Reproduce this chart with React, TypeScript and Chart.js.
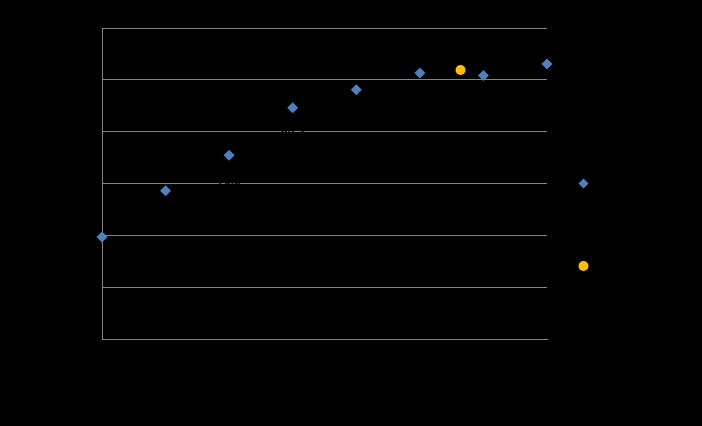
import React, { useEffect, useRef } from "react";
import { Chart, registerables } from "chart.js";

Chart.register(...registerables);

// Measured series (x = sample number)
const measuredX = [1, 2, 3, 4, 5, 6, 7, 8];
const measuredY = [39.4, 57.2, 70.9, 89.2, 96.2, 102.6, 101.7, 106.1];

// Single reference point
const referenceX = [6.64];
const referenceY = [103.8];

const seriesNames = ["Series1", "Series2"];

const yMin = 0;
const yMax = 120;
const yStep = 20;

const BLUE = "#4F81BD";
const GOLD = "#FFC000";
const GRID = "#848484";
const TEXT = "#000000";

// Value labels under the measured points (dark text on the dark chart),
// kept inside the plot area horizontally
const valueLabels = {
  id: "valueLabels",
  afterDatasetsDraw(chart: any) {
    const { ctx, chartArea } = chart;
    const meta = chart.getDatasetMeta(0);
    ctx.save();
    ctx.fillStyle = TEXT;
    ctx.font = "bold 12px 'Liberation Sans', Arial, sans-serif";
    ctx.textAlign = "left";
    ctx.textBaseline = "middle";
    meta.data.forEach((pt: any, i: number) => {
      const txt = measuredY[i].toFixed(1);
      const w = ctx.measureText(txt).width;
      let left = pt.x - w / 2;
      left = Math.max(chartArea.left + 3, Math.min(left, chartArea.right - w - 3));
      ctx.fillText(txt, left, pt.y + 26);
    });
    ctx.restore();
  },
};

// Vertical legend to the right of the plot
const sideLegend = {
  id: "sideLegend",
  afterDraw(chart: any) {
    const { ctx, chartArea } = chart;
    const h = chartArea.bottom - chartArea.top;
    const x = chartArea.right + 36.5;
    const rows = [chartArea.top + h * 0.5, chartArea.top + h * 0.765];
    ctx.save();
    chart.data.datasets.forEach((ds: any, i: number) => {
      const y = rows[i];
      ctx.fillStyle = ds.backgroundColor;
      ctx.beginPath();
      if (ds.pointStyle === "rectRot") {
        const r = 5;
        ctx.moveTo(x, y - r);
        ctx.lineTo(x + r, y);
        ctx.lineTo(x, y + r);
        ctx.lineTo(x - r, y);
        ctx.closePath();
      } else {
        ctx.arc(x, y, 5, 0, Math.PI * 2);
      }
      ctx.fill();
      ctx.fillStyle = TEXT;
      ctx.font = "12px 'Liberation Sans', Arial, sans-serif";
      ctx.textAlign = "left";
      ctx.textBaseline = "middle";
      ctx.fillText(ds.label, x + 10, y);
    });
    ctx.restore();
  },
};

export default function App() {
  const canvasRef = useRef<HTMLCanvasElement | null>(null);

  useEffect(() => {
    document.body.style.margin = "0";
    document.body.style.background = "#000";
    const canvas = canvasRef.current;
    if (!canvas) return;

    const chart = new Chart(canvas, {
      type: "scatter",
      data: {
        datasets: [
          {
            label: seriesNames[0],
            data: measuredX.map((x, i) => ({ x, y: measuredY[i] })),
            backgroundColor: BLUE,
            borderColor: BLUE,
            pointStyle: "rectRot",
            pointRadius: 5.5,
            pointHoverRadius: 5.5,
            borderWidth: 0,
            clip: false,
          } as any,
          {
            label: seriesNames[1],
            data: referenceX.map((x, i) => ({ x, y: referenceY[i] })),
            backgroundColor: GOLD,
            borderColor: GOLD,
            pointStyle: "circle",
            pointRadius: 5,
            pointHoverRadius: 5,
            borderWidth: 0,
            clip: false,
          } as any,
        ],
      },
      options: {
        responsive: false,
        animation: false,
        layout: { padding: { top: 28, right: 155, left: 0, bottom: 0 } },
        plugins: {
          legend: { display: false },
          tooltip: { enabled: false },
        },
        scales: {
          x: {
            type: "linear",
            min: 1,
            max: 8,
            ticks: {
              stepSize: 1,
              color: TEXT,
              font: { size: 12, family: "'Liberation Sans', Arial, sans-serif" },
            },
            grid: { color: "rgba(0,0,0,0)", drawTicks: false },
            border: { display: true, color: GRID, width: 1 },
            afterFit(scale: any) {
              scale.height = 87;
            },
          },
          y: {
            min: yMin,
            max: yMax,
            ticks: {
              stepSize: yStep,
              color: TEXT,
              font: { size: 12, family: "'Liberation Sans', Arial, sans-serif" },
            },
            grid: { color: GRID, lineWidth: 1, drawTicks: false },
            border: { display: true, color: GRID, width: 1 },
            afterFit(scale: any) {
              scale.width = 102;
            },
          },
        },
      },
      plugins: [valueLabels, sideLegend],
    });

    return () => chart.destroy();
  }, []);

  return (
    <div style={{ width: 702, height: 426, background: "#000" }}>
      <canvas ref={canvasRef} width={702} height={426} style={{ display: "block" }} />
    </div>
  );
}
